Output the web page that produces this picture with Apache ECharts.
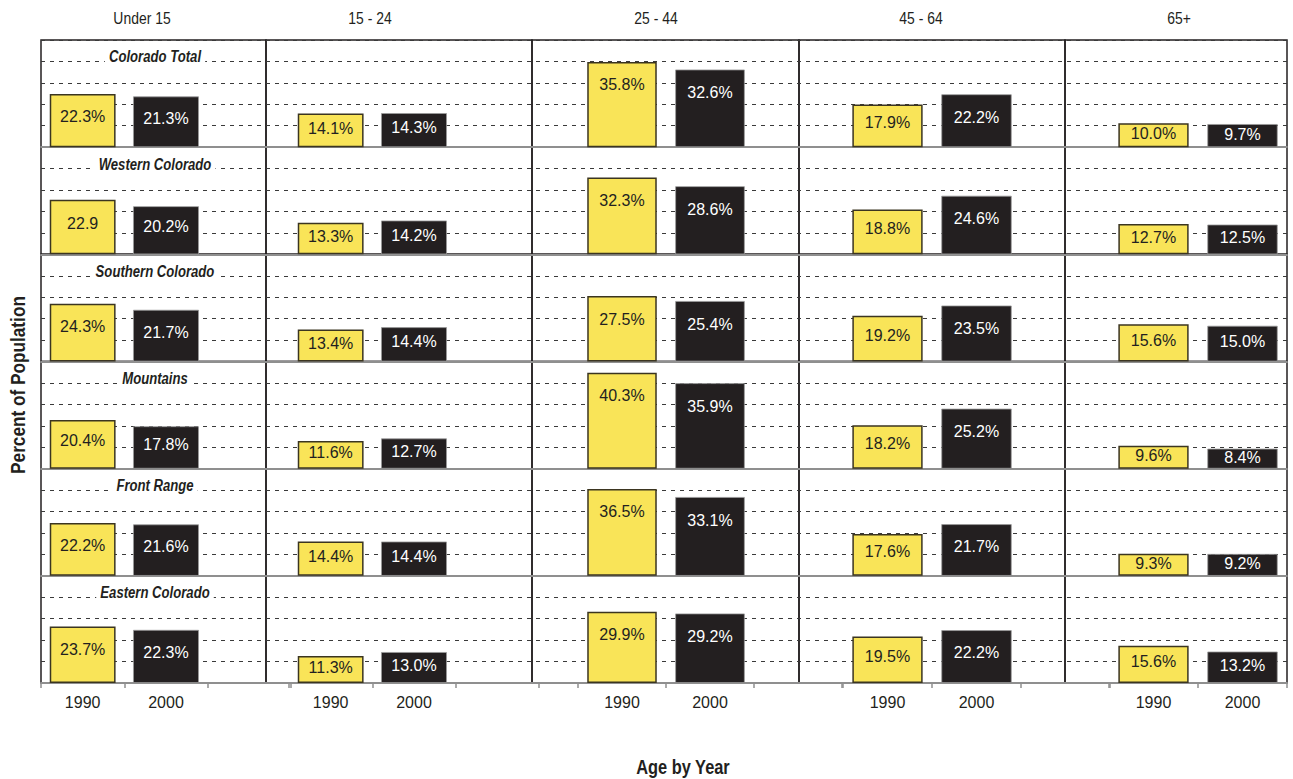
<!DOCTYPE html>
<html><head><meta charset="utf-8">
<script src="https://cdn.jsdelivr.net/npm/echarts@6/dist/echarts.min.js"></script>
<style>html,body{margin:0;padding:0;background:#fff}#c{width:1293px;height:779px}</style>
</head><body><div id="c"></div>
<script>
// ---------- data ----------
const ageGroups = ['Under 15', '15 - 24', '25 - 44', '45 - 64', '65+'];
const years = ['1990', '2000'];
const regions = ['Colorado Total', 'Western Colorado', 'Southern Colorado', 'Mountains', 'Front Range', 'Eastern Colorado'];
const pct1990 = [
  [22.3, 14.1, 35.8, 17.9, 10.0],
  [22.9, 13.3, 32.3, 18.8, 12.7],
  [24.3, 13.4, 27.5, 19.2, 15.6],
  [20.4, 11.6, 40.3, 18.2, 9.6],
  [22.2, 14.4, 36.5, 17.6, 9.3],
  [23.7, 11.3, 29.9, 19.5, 15.6]
];
const pct2000 = [
  [21.3, 14.3, 32.6, 22.2, 9.7],
  [20.2, 14.2, 28.6, 24.6, 12.5],
  [21.7, 14.4, 25.4, 23.5, 15.0],
  [17.8, 12.7, 35.9, 25.2, 8.4],
  [21.6, 14.4, 33.1, 21.7, 9.2],
  [22.3, 13.0, 29.2, 22.2, 13.2]
];
// the source prints this one value without a percent sign
const bareLabels = ['1990|Western Colorado|Under 15'];
const yMax = 45, yStep = 9;
const xTitle = 'Age by Year';
const yTitle = 'Percent of Population';

// ---------- layout / style ----------
const font = "'Liberation Sans Narrow','Arial Narrow','Liberation Sans',Arial,sans-serif";
const gfont = "'Liberation Sans',Arial,sans-serif";
const narrow = 0.82;
const ink = '#231f20';
const plotL = 41, plotR = 1287, rowTop0 = 40, rowH = 107.17;
const panelX = [41, 266, 532, 799, 1065, 1287];
const barAxisL = [41, 289, 578, 843, 1109];
const barAxisW = [250, 250, 264, 267, 178];
const slotCount = [3, 3, 3, 3, 2];
const headerX = [142, 370, 656, 921, 1179];
const regionLabelX = 155;

const grid = [], xAxis = [], yAxis = [], series = [], graphic = [];
function addGrid(g, xa, ya) {
  const i = grid.length;
  grid.push(g); xa.gridIndex = i; ya.gridIndex = i;
  xAxis.push(xa); yAxis.push(ya);
  return i;
}
function labelFor(v, text, color) {
  const base = { show: true, formatter: text, color: color, fontSize: 16, fontFamily: font };
  if (v > 23) return Object.assign(base, { position: 'insideTop', distance: 15 });
  return Object.assign(base, { position: ['50%', '43%'], align: 'center', verticalAlign: 'middle' });
}
function gtext(x, y, text, style, extra) {
  return Object.assign({ type: 'text', z: 100, x: x, y: y, scaleX: narrow,
    style: Object.assign({ text: text, align: 'center', verticalAlign: 'middle', fontFamily: gfont, fill: ink }, style) }, extra || {});
}
const last = regions.length - 1;

regions.forEach((reg, r) => {
  const top = rowTop0 + r * rowH;
  // row background: dashed gridlines + baseline
  addGrid({ left: plotL, top: top, width: plotR - plotL, height: rowH, show: false },
    { type: 'value', min: 0, max: 1, axisLine: { show: true, onZero: false, lineStyle: { color: '#8f8f8f', width: 2 } },
      axisTick: { show: false }, axisLabel: { show: false }, splitLine: { show: false } },
    { type: 'value', min: 0, max: yMax, interval: yStep, axisLine: { show: false }, axisTick: { show: false },
      axisLabel: { show: false }, splitLine: { show: true, lineStyle: { type: [4, 5], color: '#3a3a3a', width: 1 } } });
  // panel frames
  ageGroups.forEach((ag, c) => {
    addGrid({ left: panelX[c], top: top, width: panelX[c + 1] - panelX[c], height: rowH, show: true,
      borderColor: ink, borderWidth: 1.5, backgroundColor: 'transparent' },
      { type: 'value', show: false }, { type: 'value', show: false });
  });
  // bars
  ageGroups.forEach((ag, c) => {
    const cats = years.concat(['']).slice(0, slotCount[c]);
    const idx = addGrid({ left: barAxisL[c], top: top, width: barAxisW[c], height: rowH, show: false },
      { type: 'category', data: cats, axisLine: { show: false },
        axisTick: { show: r === last, length: 5, lineStyle: { color: '#8f8f8f', width: 1.5 } },
        axisLabel: { show: r === last, margin: 11, fontSize: 16, color: ink, fontFamily: font } },
      { type: 'value', min: 0, max: yMax, interval: yStep, show: false });
    const v0 = pct1990[r][c], v1 = pct2000[r][c];
    const t0 = bareLabels.indexOf(years[0] + '|' + reg + '|' + ag) >= 0 ? v0.toFixed(1) : v0.toFixed(1) + '%';
    const t1 = bareLabels.indexOf(years[1] + '|' + reg + '|' + ag) >= 0 ? v1.toFixed(1) : v1.toFixed(1) + '%';
    const d0 = cats.map(() => '-'), d1 = cats.map(() => '-');
    d0[0] = { value: v0, label: labelFor(v0, t0, ink) };
    d1[1] = { value: v1, label: labelFor(v1, t1, '#ffffff') };
    series.push({ type: 'bar', name: years[0], xAxisIndex: idx, yAxisIndex: idx, barWidth: '79%', barGap: '-100%',
      itemStyle: { color: '#f9e458', borderColor: '#3b3520', borderWidth: 1.5 }, data: d0 });
    series.push({ type: 'bar', name: years[1], xAxisIndex: idx, yAxisIndex: idx, barWidth: '79%', barGap: '-100%',
      itemStyle: { color: ink, borderColor: '#9b9b9b', borderWidth: 0.8 }, data: d1 });
  });
  graphic.push(gtext(regionLabelX, top + 17, reg,
    { fontStyle: 'italic', fontWeight: 'bold', fontSize: 16, backgroundColor: '#ffffff', padding: [1, 5] }));
});

ageGroups.forEach((ag, c) => {
  graphic.push(gtext(headerX[c], 18, ag, { fontSize: 17 }));
});
graphic.push(gtext(683, 767, xTitle, { fontSize: 20, fontWeight: 'bold' }));
graphic.push(gtext(18, 385, yTitle, { fontSize: 21, fontWeight: 'bold' }, { rotation: Math.PI / 2 }));

const chart = echarts.init(document.getElementById('c'), null, { renderer: 'svg' });
chart.setOption({
  animation: false,
  backgroundColor: '#ffffff',
  grid: grid, xAxis: xAxis, yAxis: yAxis, series: series, graphic: graphic
});
</script></body></html>
